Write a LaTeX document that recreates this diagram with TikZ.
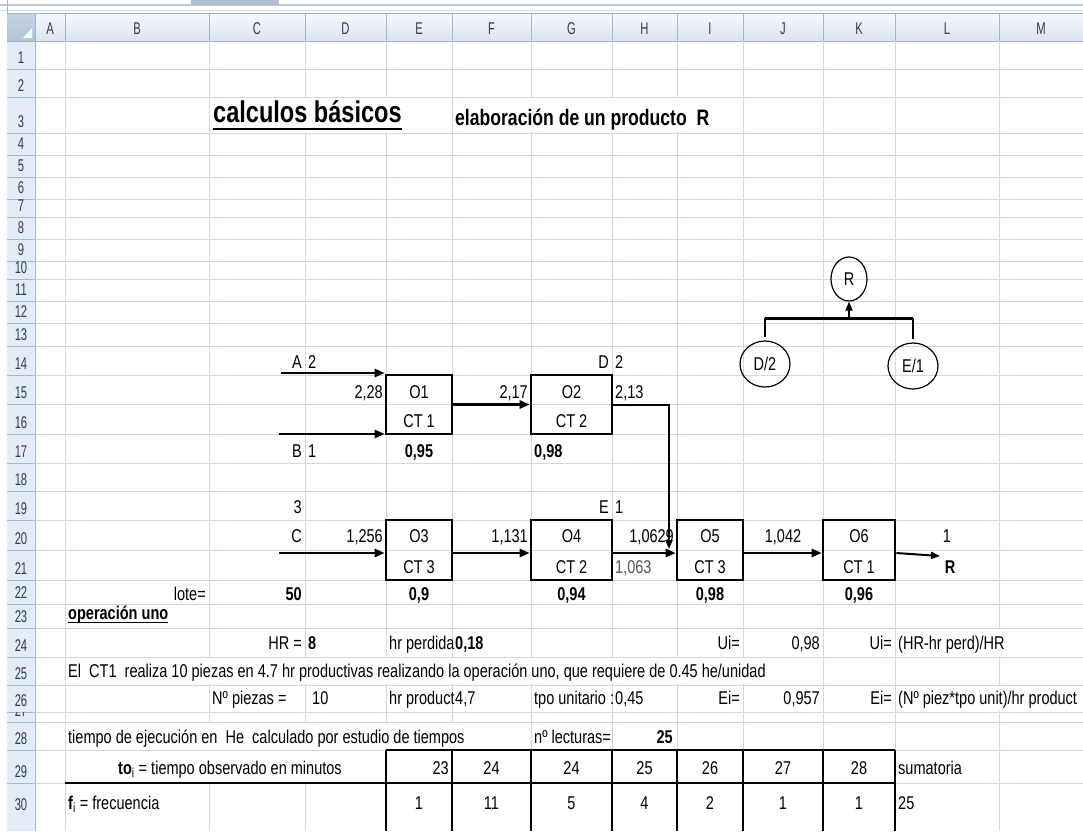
\documentclass[tikz,border=0pt]{standalone}
\usepackage{fontspec}
\setmainfont{Liberation Sans}[FakeStretch=0.785]
\newfontfamily\hdrfont{Liberation Sans}[FakeStretch=0.66]
\usetikzlibrary{arrows.meta,shapes.geometric}
\definecolor{gridc}{HTML}{D0D7E5}
\definecolor{hdrfill}{HTML}{E4ECF7}
\definecolor{hdrline}{HTML}{9EB6CE}
\definecolor{hdrtext}{HTML}{2F3E52}
\definecolor{greytxt}{HTML}{555555}
\newcounter{tn}
\newcommand\TL[4][]{\stepcounter{tn}\node[cell,anchor=base west,#1] (t\arabic{tn}) at ({#2},{#3}) {#4};}
\newcommand\TR[4][]{\stepcounter{tn}\node[cell,anchor=base east,#1] (t\arabic{tn}) at ({#2},{#3}) {#4};}
\newcommand\TC[4][]{\stepcounter{tn}\node[cell,anchor=base,#1] (t\arabic{tn}) at ({#2},{#3}) {#4};}
\begin{document}
\begin{tikzpicture}[x=1pt,y=-1pt,
  cell/.style={font=\fontsize{18.5}{20}\selectfont,inner sep=0pt,text=black},
  bf/.style={font=\fontsize{18.5}{20}\selectfont\bfseries},
  hdr/.style={font=\hdrfont\fontsize{17}{18}\selectfont,inner sep=0pt,text=hdrtext},
  gridl/.style={draw=gridc,line width=1pt},
  hline/.style={draw=hdrline,line width=1pt},
  tbl/.style={draw=black,line width=1.3pt},
  opbox/.style={draw=black,line width=2.6pt,inner sep=0pt,minimum height=59pt},
  arr/.style={line width=2.5pt,-{Triangle[length=10pt,width=8pt]}},
  arrm/.style={line width=2pt,-{Triangle[length=9pt,width=7pt]}},
  circ/.style={draw=black,line width=1.2pt,ellipse,inner sep=0pt,font=\fontsize{18.5}{20}\selectfont}
]
\useasboundingbox (0,0) rectangle (1083,831);
\clip (0,0) rectangle (1083,831);
\fill[white] (0,0) rectangle (1083,831);
% window strip
\draw[hdrline!70,line width=2pt] (0,5) -- (1083,5);
\fill[hdrline!85] (191,0) rectangle (279,5);
\draw[hdrline!45,line width=1pt] (0,10.5) -- (1083,10.5);
\draw[hdrline,line width=1pt] (7,0) -- (7,831);
% header row and row header column
\shade[top color=white!70!hdrfill,bottom color=hdrfill!85!hdrline] (35,13) rectangle (1083,41);
\fill[hdrfill] (7,41) rectangle (35,831);
\shade[top color=hdrline!45!hdrfill,bottom color=hdrline!75!hdrfill] (7,13) rectangle (35,41);
\fill[white!75!hdrfill] (32,28) -- (32,38) -- (23,38) -- cycle;
\draw[hline] (7,13) -- (1083,13);
\draw[hline] (7,41) -- (1083,41);
\draw[hline] (35,13) -- (35,831);
% column headers
\foreach \l/\a/\b in {A/35/65,B/65/209,C/209/305,D/305/386,E/386/452,F/452/531,G/531/612,H/612/677,I/677/743,J/743/823,K/823/895,L/895/999,M/999/1083}{
  \node[hdr,anchor=base] (ch\l) at ({(\a+\b)/2},34) {\l};
  \draw[hline] (\b,13) -- (\b,41);
}
% grid lines
\foreach \b in {69,97,133,155,177,199,217,239,261,279,301,323,346,375,404,434,463,491,520,550,580,604,628,657,685,712,722,750,783}{
  \draw[gridl] (35,\b) -- (1083,\b);
}
\foreach \x in {65,209,305,386,452,531,612,677,743,823,895,999}{
  \draw[gridl] (\x,41) -- (\x,831);
}
% row headers
\foreach \n/\t/\b in {1/41/69,2/69/97,3/97/133,4/133/155,5/155/177,6/177/199,7/199/217,8/217/239,9/239/261,10/261/279,11/279/301,12/301/323,13/323/346,14/346/375,15/375/404,16/404/434,17/434/463,18/463/491,19/491/520,20/520/550,21/550/580,22/580/604,23/604/628,24/628/657,25/657/685,26/685/712,27/712/722,28/722/750,29/750/783}{
  \begin{scope}
    \clip (7,\t) rectangle (35,\b);
    \node[hdr,anchor=base] (rl\n) at (21,\b-6) {\smash{\n}};
  \end{scope}
  \draw[hline] (7,\b) -- (35,\b);
}
\node[hdr,anchor=base] (rl30) at (21,810) {30};
% hide grid lines under overflowing text
\fill[white] (210,98) rectangle (451,132);
\fill[white] (453,98) rectangle (742,132);
\fill[white] (66,658) rectangle (822,684);
\fill[white] (896,629) rectangle (1083,656);
\fill[white] (896,686) rectangle (1083,711);
\fill[white] (66,723) rectangle (530,749);
\fill[white] (66,751) rectangle (385,782);
% table borders
\draw[tbl] (386,750) -- (895,750);
\draw[tbl] (65,783) -- (895,783);
\foreach \x in {386,452,531,612,677,743,823,895}{
  \draw[tbl] (\x,750) -- (\x,831);
}
% title row
\node[cell,anchor=base west,font=\fontsize{30}{32}\selectfont\bfseries] (title) at (213,122) {calculos básicos};
\draw[line width=2.5pt] (title.west |- 0,129) -- (title.east |- 0,129);
\node[cell,anchor=base west,font=\fontsize{22.4}{24}\selectfont\bfseries] (subt) at (455,125) {elaboración de un producto~~R};
% operation boxes
\node[opbox,minimum width=66pt] (O1) at (419,404.5) {};
\node[opbox,minimum width=81pt] (O2) at (571.5,404.5) {};
\node[opbox,minimum width=66pt,minimum height=60pt] (O3) at (419,550) {};
\node[opbox,minimum width=81pt,minimum height=60pt] (O4) at (571.5,550) {};
\node[opbox,minimum width=66pt,minimum height=60pt] (O5) at (710,550) {};
\node[opbox,minimum width=72pt,minimum height=60pt] (O6) at (859,550) {};
% connectors
\coordinate (Ain) at (281,373);
\coordinate (Bin) at (279,434);
\coordinate (Cin) at (279,553);
\coordinate (J5) at (669,549);
\coordinate (Rout) at (940,556);
\draw[arr] (Ain) -- (Ain -| O1.west);
\draw[arr] (Bin) -- (Bin -| O1.west);
\draw[arr] (O1.east) -- (O2.west);
\draw[arrm] (O2.east) -| (J5);
\draw[arr] (Cin) -- (Cin -| O3.west);
\draw[arr] ([yshift=-3pt]O3.east) -- ([yshift=-3pt]O4.west);
\draw[arr] ([yshift=-3pt]O4.east) -- ([yshift=-3pt]O5.west);
\draw[arr] ([yshift=-3pt]O5.east) -- ([yshift=-3pt]O6.west);
\draw[arrm] ([yshift=-3pt]O6.east) -- (Rout);
% product tree
\node[circ,minimum width=36pt,minimum height=44pt] (Rc) at (849,279) {R};
\node[circ,minimum width=50pt,minimum height=46pt] (D2) at (765,364) {D/2};
\node[circ,minimum width=50pt,minimum height=46pt] (E1) at (913,366) {E/1};
\coordinate (barL) at (765,318);
\coordinate (barR) at (913,318);
\draw[line width=3pt] (barL) -- (barR);
\draw[line width=2pt] ([yshift=3pt]D2.north) -- (barL);
\draw[line width=2pt] ([yshift=3pt]E1.north) -- (barR);
\draw[arrm] (Rc.south |- barL) -- (Rc.south);
% row 14
\TR{302}{368}{A}\TL{308}{368}{2}
\TR{609}{368}{D}\TL{615}{368}{2}
% row 15
\TR{383}{398}{2,28}\TC{419}{398}{O1}\TR{528}{398}{2,17}\TC{571.5}{398}{O2}\TL{615}{398}{2,13}
% row 16
\TC{419}{427}{CT 1}\TC{571.5}{427}{CT 2}
% row 17
\TR{302}{457}{B}\TL{308}{457}{1}\TC[bf]{419}{457}{0,95}\TL[bf]{534}{457}{0,98}
% row 19
\TR{302}{513}{3}\TR{609}{513}{E}\TL{615}{513}{1}
% row 20
\TR{302}{542}{C}\TR{383}{542}{1,256}\TC{419}{542}{O3}\TR{528}{542}{1,131}\TC{571.5}{542}{O4}
\TR{674}{542}{1,0629}\TC{710}{542}{O5}\TC{783}{542}{1,042}\TC{859}{542}{O6}\TC{947}{542}{1}
% row 21
\TC{419}{573}{CT 3}\TC{571.5}{573}{CT 2}\TL[text=greytxt]{615}{573}{1,063}\TC{710}{573}{CT 3}\TC{859}{573}{CT 1}\TC[bf]{950}{573}{R}
% row 22
\TR{206}{600}{lote=}\TR[bf]{302}{600}{50}\TC[bf]{419}{600}{0,9}\TC[bf]{571.5}{600}{0,94}\TC[bf]{710}{600}{0,98}\TC[bf]{859}{600}{0,96}
% row 23
\TL[bf]{68}{619}{operación uno}
\draw[line width=1pt] (t\arabic{tn}.west |- 0,622) -- (t\arabic{tn}.east |- 0,622);
% row 24
\TR{302}{649}{HR =}\TL[bf]{308}{649}{8}\TL{389}{649}{hr perdida}\TL[bf]{455}{649}{0,18}
\TR{740}{649}{Ui=}\TR{820}{649}{0,98}\TR{892}{649}{Ui=}\TL{898}{649}{(HR-hr perd)/HR}
% row 25
\TL{68}{677}{El~~CT1~~realiza 10 piezas en 4.7 hr productivas realizando la operación uno, que requiere de 0.45 he/unidad}
% row 26
\TL{212}{704}{Nº piezas =}\TL{312}{704}{10}
\TL{389}{704}{hr product}
\TL{455}{704}{4,7}
\TL{534}{704}{tpo unitario :}
\TL{615}{704}{0,45}\TR{740}{704}{Ei=}\TR{820}{704}{0,957}\TR{892}{704}{Ei=}\TL{898}{704}{(Nº piez*tpo unit)/hr product}
% row 28
\TL{68}{743}{tiempo de ejecución en~~He~~calculado por estudio de tiempos}
\TL{534}{743}{nº lecturas=}\TR[bf]{673}{743}{25}
% row 29
\TC{230}{774}{{\bfseries to}\textsubscript{i} = tiempo observado en minutos}
\TR{449}{774}{23}\TC{491.5}{774}{24}\TC{571.5}{774}{24}\TC{644.5}{774}{25}\TC{710}{774}{26}\TC{783}{774}{27}\TC{859}{774}{28}\TL{898}{774}{sumatoria}
% row 30
\TL{68}{809}{{\bfseries f}\textsubscript{i} = frecuencia}
\TC{419}{809}{1}\TC{491.5}{809}{11}\TC{571.5}{809}{5}\TC{644.5}{809}{4}\TC{710}{809}{2}\TC{783}{809}{1}\TC{859}{809}{1}\TL{898}{809}{25}
\end{tikzpicture}
\end{document}
